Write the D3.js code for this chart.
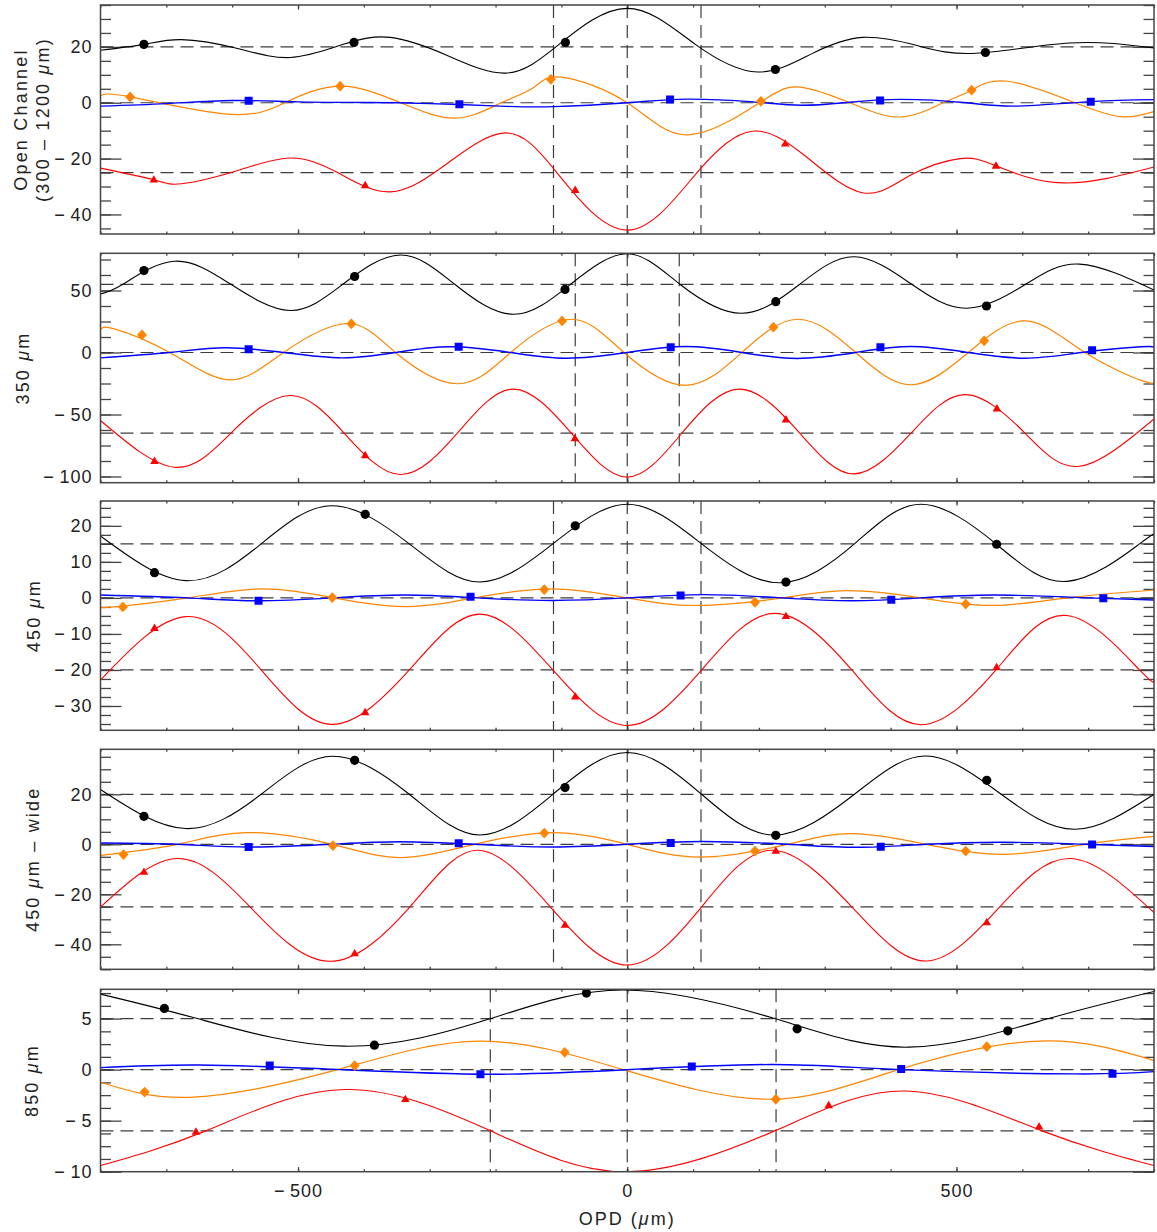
<!DOCTYPE html>
<html>
<head>
<meta charset="utf-8">
<script src="https://cdn.jsdelivr.net/npm/d3@7"></script>
<style>
  body { margin: 0; background: #fff; }
  svg { display: block; }
  text { font-family: "Liberation Sans", Arial, sans-serif; fill: #222; }
</style>
</head>
<body>
<svg id="chart" width="1157" height="1232"></svg>
<script>
// ---------- shared OPD axis ----------
const opdRange = [-800, 800];
const opdMajorTicks = [-500, 0, 500];
const opdMinorTicks = d3.range(-800, 801, 100);
const opdTickLabels = ["\u2212\u2009500", "0", "500"];

// ---------- panel 1: open channel (300 – 1200 µm) ----------
const openRange = [-47, 35];
const openTicks = [-40, -20, 0, 20];
const openMinorStep = 5;
const openLevels = [20, 0, -25];
const openFringe = [-112, 0, 112];
const openBlack = [[-800,18.8],[-734,20.9],[-677,22.6],[-595,19.6],[-512,16.2],[-430,21],[-360,23.4],[-276,17.2],[-185,10.6],[-104,20.8],[0,33.8],[104,20.8],[198,11],[280,17.5],[357,23.4],[440,20.5],[530,17.7],[672,21.4],[800,19.6]];
const openOrange = [[-800,2.5],[-755,2.1],[-607,-4.1],[-520,0],[-436,5.95],[-344,0],[-261,-5.5],[-193,-0.2],[-142,5.5],[-100,9.2],[0,0],[93,-11.5],[204,0.5],[263,5.6],[338,0],[414,-5.1],[480,0],[523,4.5],[578,7.7],[680,0],[750,-5],[800,-3.2]];
const openBlue = [[-800,-1.2],[-700,-0.3],[-600,0.8],[-500,0.3],[-400,0.1],[-300,-0.3],[-193,-1.2],[-112,-1.4],[0,0],[90,1.3],[191,0.3],[263,-0.9],[330,0],[414,1.2],[515,0],[590,-1.2],[704,0.4],[800,1.1]];
const openRed = [[-800,-23.4],[-719,-27.6],[-677,-29],[-595,-24.5],[-512,-19.8],[-440,-25],[-360,-31.9],[-275,-22],[-185,-10.8],[-107,-25],[0,-45.6],[106,-25],[190,-10.2],[270,-19],[357,-32.2],[430,-26],[505,-20],[560,-22.6],[662,-28.7],[800,-23]];
const openBlackPts = [[-734,20.9],[-415,21.6],[-94,21.6],[225,11.9],[544,18]];
const openOrangePts = [[-755,2.1],[-436,5.95],[-116,8.4],[203,0.5],[523,4.5]];
const openBluePts = [[-575,0.7],[-255,-0.5],[65,1.2],[384,0.8],[704,0.4]];
const openRedPts = [[-719,-27.6],[-398,-29.6],[-79,-31.3],[240,-14.7],[560,-22.6]];

// ---------- panel 2: 350 µm ----------
const b350Range = [-105, 80];
const b350Ticks = [-100, -50, 0, 50];
const b350MinorStep = 12.5;
const b350Levels = [55, 0, -65];
const b350Fringe = [-79, 0, 79];
const b350Black = [[-800,47.3],[-766,55],[-688,73.6],[-602,55],[-512,33.9],[-432,55],[-344.6,78.6],[-262,55],[-173,30.8],[-86,55],[0,79.6],[80,55],[173.6,31.6],[262,55],[344.6,77.2],[432,55],[516,35.7],[605,55],[687,71.3],[800,50.4]];
const b350Orange = [[-800,18.3],[-779,19.1],[-695,0],[-604,-22],[-522,0],[-425,23.4],[-352,0],[-258,-25.2],[-177,0],[-85,26.8],[-5,0],[88.5,-26.5],[174,0],[259.5,26.8],[347,0],[431,-26],[518,0],[604.5,25.5],[695,0],[785,-23.3],[800,-21.4]];
const b350Blue = [[-800,-4.3],[-695,0],[-610,3.8],[-522,0],[-433,-4.3],[-352,0],[-269,4.6],[-177,0],[-92,-4.6],[0,0],[88.5,4.8],[174,0],[258,-4.8],[347,0],[431,4.8],[518,0],[605,-4.6],[690,0],[780,4.6],[800,4.0]];
const b350Red = [[-800,-54.8],[-688,-92.5],[-602,-65],[-512,-34.7],[-430,-65],[-344.6,-98.4],[-258,-65],[-173,-29.5],[-85,-65],[0,-100.5],[83,-65],[171,-29.5],[262,-65],[344.6,-97.9],[431,-65],[514,-34],[604,-65],[687,-91.7],[800,-53.6]];
const b350BlackPts = [[-734,66.1],[-414,61.3],[-94.5,50.9],[225.6,41],[545.6,37.5]];
const b350OrangePts = [[-737,14.2],[-419,23.1],[-99,25.5],[222,20.4],[542,9.4]];
const b350BluePts = [[-575,2.7],[-256,4.6],[66,4.3],[384.5,4.3],[706,1.9]];
const b350RedPts = [[-718,-87.6],[-398,-83],[-79.5,-69.4],[241,-54.2],[561.5,-45.3]];

// ---------- panel 3: 450 µm ----------
const b450Range = [-36.75, 26.9];
const b450Ticks = [-30, -20, -10, 0, 10, 20];
const b450MinorStep = 2.5;
const b450Levels = [15, 0, -20];
const b450Fringe = [-112, 0, 112];
const b450Black = [[-800,17.2],[-670,4.8],[-556,15],[-448,25.6],[-331,15],[-224,4.4],[-113,15],[0,26],[113,15],[231,4.2],[345,15],[446,26],[560,15],[668,4.6],[778,15],[800,17.6]];
const b450Orange = [[-800,-2.4],[-780,-2.5],[-668,0],[-556,2.5],[-448,0.1],[-337,-2.4],[-232,0],[-115,2.5],[0,0],[107,-2.1],[235,0],[337,2.0],[446,0],[555,-2.1],[668,0],[800,2.2]];
const b450Blue = [[-800,0.8],[-668,0],[-560,-0.8],[-448,0],[-337,0.8],[-228,0],[-115,-0.7],[0,0],[115,0.9],[235,0],[341,-0.8],[446,0],[559,0.8],[700,0],[800,-0.6]];
const b450Red = [[-800,-22.8],[-670,-5.2],[-556,-20],[-448,-35.1],[-331,-20],[-224,-4.5],[-113,-20],[0,-35.4],[113,-20],[224,-4.3],[341,-20],[446,-35.2],[560,-20],[668,-4.9],[778,-20],[800,-22.6]];
const b450BlackPts = [[-718,7.0],[-398,23.2],[-79,20],[241,4.4],[561,14.9]];
const b450OrangePts = [[-766,-2.5],[-448,0.1],[-126,2.3],[194,-1.2],[514,-1.7]];
const b450BluePts = [[-560,-0.8],[-238,0.3],[81,0.7],[401,-0.5],[723,-0.1]];
const b450RedPts = [[-718,-8.4],[-398,-31.8],[-79,-27.4],[241,-5.1],[561,-19.3]];

// ---------- panel 4: 450 µm – wide ----------
const wideRange = [-50, 38];
const wideTicks = [-40, -20, 0, 20];
const wideMinorStep = 5;
const wideLevels = [20, 0, -25];
const wideFringe = [-112, 0, 112];
const wideBlack = [[-800,21.9],[-671,6.3],[-556,20],[-448,35.2],[-331,20],[-224,3.7],[-113,20],[0,36.7],[113,20],[224,3.7],[345,20],[454,35.3],[568,20],[680,6],[800,20]];
const wideOrange = [[-800,-4.4],[-683,0],[-577,4.7],[-448,0],[-345,-5.3],[-232,0],[-112,4.7],[0,0],[111,-5.1],[243,0],[341,4.3],[454,0],[574,-4],[695,0],[800,3.2]];
const wideBlue = [[-800,0.5],[-683,0],[-575,-1.1],[-448,0],[-345,1.0],[-232,0],[-113,-1.1],[0,0],[113,1.1],[243,0],[350,-1.2],[454,0],[574,0.8],[695,0],[800,-0.9]];
const wideRed = [[-800,-25.1],[-683,-5.7],[-573,-25],[-453,-46.8],[-330,-25],[-228,-2.4],[-117,-25],[0,-48.3],[113,-25],[220,-2.4],[341,-25],[454,-46.7],[566,-25],[674,-5.7],[800,-27.3]];
const wideBlackPts = [[-734,11.2],[-414,33.6],[-94.5,22.7],[225.6,3.6],[546,25.6]];
const wideOrangePts = [[-765,-4.1],[-447,-0.5],[-126,4.5],[194,-2.7],[514,-2.7]];
const wideBluePts = [[-575,-1.1],[-256,0.4],[66,0.5],[385,-1.0],[706,-0.1]];
const wideRedPts = [[-734,-11.1],[-414,-43.7],[-94.5,-32.3],[225.6,-2.7],[546,-31.3]];

// ---------- panel 5: 850 µm ----------
const b850Range = [-10, 7.87];
const b850Ticks = [-10, -5, 0, 5];
const b850MinorStep = 1.25;
const b850Levels = [5, 0, -6];
const b850Fringe = [-208, 0, 226];
const b850Black = [[-800,7.4],[-653,5],[-430,2.3],[-207.5,5],[-6,7.8],[224,5],[427.5,2.2],[640,5],[800,7.65]];
const b850Orange = [[-800,-1.24],[-658,-2.7],[-440,0],[-224,2.8],[-6,0],[216,-2.9],[412,0],[627,2.8],[800,0.9]];
const b850Blue = [[-800,0.2],[-650,0.45],[-435,0],[-210,-0.45],[0,0],[220,0.5],[416,0],[680,-0.42],[800,-0.2]];
const b850Red = [[-800,-9.4],[-640,-6],[-430,-1.95],[-207.5,-6],[-2,-10.0],[224,-6],[424,-2.1],[630,-6],[800,-9.4]];
const b850BlackPts = [[-703,6.0],[-384,2.4],[-62,7.5],[258,4.0],[578,3.8]];
const b850OrangePts = [[-733,-2.2],[-414,0.4],[-95,1.7],[225.6,-2.9],[546,2.25]];
const b850BluePts = [[-543,0.4],[-223,-0.45],[98,0.3],[416,0.07],[737,-0.4]];
const b850RedPts = [[-655,-6.1],[-337,-2.9],[306,-3.5],[625.5,-5.6]];

// ---------- assemble panels ----------
const panels = [
  { title: ["Open Channel", "(300 \u2013 1200 |\u03bc|m)"], range: openRange, ticks: openTicks, minor: openMinorStep,
    levels: openLevels, fringe: openFringe,
    curves: [openBlack, openOrange, openBlue, openRed], marks: [openBlackPts, openOrangePts, openBluePts, openRedPts] },
  { title: ["350  |\u03bc|m"], range: b350Range, ticks: b350Ticks, minor: b350MinorStep,
    levels: b350Levels, fringe: b350Fringe,
    curves: [b350Black, b350Orange, b350Blue, b350Red], marks: [b350BlackPts, b350OrangePts, b350BluePts, b350RedPts] },
  { title: ["450  |\u03bc|m"], range: b450Range, ticks: b450Ticks, minor: b450MinorStep,
    levels: b450Levels, fringe: b450Fringe,
    curves: [b450Black, b450Orange, b450Blue, b450Red], marks: [b450BlackPts, b450OrangePts, b450BluePts, b450RedPts] },
  { title: ["450  |\u03bc|m  \u2013  wide"], range: wideRange, ticks: wideTicks, minor: wideMinorStep,
    levels: wideLevels, fringe: wideFringe,
    curves: [wideBlack, wideOrange, wideBlue, wideRed], marks: [wideBlackPts, wideOrangePts, wideBluePts, wideRedPts] },
  { title: ["850  |\u03bc|m"], range: b850Range, ticks: b850Ticks, minor: b850MinorStep,
    levels: b850Levels, fringe: b850Fringe,
    curves: [b850Black, b850Orange, b850Blue, b850Red], marks: [b850BlackPts, b850OrangePts, b850BluePts, b850RedPts] }
];

// ---------- layout & styling ----------
const plotLeft = 100.5, plotRight = 1154;
const boxes = [
  { top: 5, bottom: 234, titleX: [21, 43] },
  { top: 253.3, bottom: 482.7, titleX: [23] },
  { top: 501, bottom: 730.3, titleX: [34] },
  { top: 749.3, bottom: 969.3, titleX: [33] },
  { top: 989.3, bottom: 1171.7, titleX: [32] }
];
const seriesColors = ["#000000", "#ff8400", "#0000ff", "#ff0000"];
const seriesWidths = [1.1, 1.2, 1.4, 1.1];
const markShapes = ["circle", "diamond", "square", "triangle"];
const axisColor = "#444";
const dashColor = "#3c3c3c";
const labelSize = 18;

const svg = d3.select("#chart");
const x = d3.scaleLinear().domain(opdRange).range([plotLeft, plotRight]);

function minusFmt(v) {
  return v < 0 ? "\u2212\u2009" + Math.abs(v) : String(v);
}

// draws a text whose pieces between bars are set in italics
function richText(sel, str) {
  str.split("|").forEach((part, i) => {
    if (!part) return;
    sel.append("tspan").attr("font-style", i % 2 === 1 ? "italic" : "normal").text(part);
  });
}

function markPath(shape) {
  switch (shape) {
    case "diamond": return "M0,-5.4L5,0L0,5.4L-5,0Z";
    case "square": return "M-4,-4H4V4H-4Z";
    case "triangle": return "M0,-4.6L4.3,2.8H-4.3Z";
    default: return null;
  }
}

panels.forEach((p, i) => {
  const b = boxes[i];
  const y = d3.scaleLinear().domain(p.range).range([b.bottom, b.top]);
  const g = svg.append("g");
  const clipId = "clip" + i;
  svg.append("clipPath").attr("id", clipId)
    .append("rect").attr("x", plotLeft).attr("y", b.top)
    .attr("width", plotRight - plotLeft).attr("height", b.bottom - b.top);

  const minorVals = d3.range(Math.ceil(p.range[0] / p.minor) * p.minor, p.range[1] + 1e-9, p.minor);

  // inward-pointing ticks on all four sides
  const yMinorL = d3.axisLeft(y).tickValues(minorVals).tickSizeInner(-10.5).tickSizeOuter(0).tickFormat("");
  const yMajorL = d3.axisLeft(y).tickValues(p.ticks).tickSizeInner(-21).tickSizeOuter(0).tickPadding(8).tickFormat(minusFmt);
  const yMinorR = d3.axisRight(y).tickValues(minorVals).tickSizeInner(-10.5).tickSizeOuter(0).tickFormat("");
  const yMajorR = d3.axisRight(y).tickValues(p.ticks).tickSizeInner(-21).tickSizeOuter(0).tickFormat("");
  const xMinorT = d3.axisTop(x).tickValues(opdMinorTicks).tickSizeInner(-2.5).tickSizeOuter(0).tickFormat("");
  const xMajorT = d3.axisTop(x).tickValues(opdMajorTicks).tickSizeInner(-4.6).tickSizeOuter(0).tickFormat("");
  const xMinorB = d3.axisBottom(x).tickValues(opdMinorTicks).tickSizeInner(-2.5).tickSizeOuter(0).tickFormat("");
  const xMajorB = d3.axisBottom(x).tickValues(opdMajorTicks).tickSizeInner(-4.6).tickSizeOuter(0).tickPadding(13)
    .tickFormat((d, k) => i === panels.length - 1 ? opdTickLabels[k] : "");

  const axes = [
    [yMinorL, `translate(${plotLeft},0)`], [yMajorL, `translate(${plotLeft},0)`],
    [yMinorR, `translate(${plotRight},0)`], [yMajorR, `translate(${plotRight},0)`],
    [xMinorT, `translate(0,${b.top})`], [xMajorT, `translate(0,${b.top})`],
    [xMinorB, `translate(0,${b.bottom})`], [xMajorB, `translate(0,${b.bottom})`]
  ];
  axes.forEach(([ax, tr]) => {
    const a = g.append("g").attr("transform", tr).call(ax);
    a.select(".domain").remove();
    a.selectAll("line").attr("stroke", axisColor).attr("stroke-width", 1.3);
    a.selectAll("text").attr("font-family", "Liberation Sans, Arial, sans-serif")
      .attr("font-size", labelSize).attr("letter-spacing", "1px").attr("fill", "#2a2a2a");
  });

  // reference levels and fringe markers
  const plot = g.append("g").attr("clip-path", `url(#${clipId})`);
  plot.selectAll("line.level").data(p.levels).join("line").attr("class", "level")
    .attr("x1", plotLeft).attr("x2", plotRight).attr("y1", d => y(d)).attr("y2", d => y(d))
    .attr("stroke", dashColor).attr("stroke-width", 1.2).attr("stroke-dasharray", "13,7");
  plot.selectAll("line.fringe").data(p.fringe).join("line").attr("class", "fringe")
    .attr("x1", d => x(d)).attr("x2", d => x(d)).attr("y1", b.top).attr("y2", b.bottom)
    .attr("stroke", dashColor).attr("stroke-width", 1.2).attr("stroke-dasharray", "13,7");

  // interferogram curves
  const line = d3.line().x(d => x(d[0])).y(d => y(d[1])).curve(d3.curveNatural);
  p.curves.forEach((c, k) => {
    plot.append("path").datum(c).attr("d", line).attr("fill", "none")
      .attr("stroke", seriesColors[k]).attr("stroke-width", seriesWidths[k]);
  });

  // sample markers
  p.marks.forEach((pts, k) => {
    const shape = markShapes[k];
    if (shape === "circle") {
      plot.selectAll(null).data(pts).join("circle")
        .attr("cx", d => x(d[0])).attr("cy", d => y(d[1])).attr("r", 4.6).attr("fill", seriesColors[k]);
    } else {
      plot.selectAll(null).data(pts).join("path")
        .attr("transform", d => `translate(${x(d[0])},${y(d[1])})`)
        .attr("d", markPath(shape)).attr("fill", seriesColors[k]);
    }
  });

  // frame
  g.append("rect").attr("x", plotLeft).attr("y", b.top)
    .attr("width", plotRight - plotLeft).attr("height", b.bottom - b.top)
    .attr("fill", "none").attr("stroke", axisColor).attr("stroke-width", 1.5);

  // y-axis title
  const cy = (b.top + b.bottom) / 2;
  p.title.forEach((t, k) => {
    const tx = b.titleX[k];
    const txt = svg.append("text")
      .attr("transform", `translate(${tx},${cy}) rotate(-90)`)
      .attr("text-anchor", "middle").attr("dy", "0.36em")
      .attr("font-size", labelSize).attr("letter-spacing", "2.2px");
    richText(txt, t);
  });
});

// x-axis title
const xt = svg.append("text").attr("x", (plotLeft + plotRight) / 2).attr("y", 1225)
  .attr("text-anchor", "middle").attr("font-size", labelSize).attr("letter-spacing", "2px");
richText(xt, "OPD (|\u03bc|m)");
</script>
</body>
</html>
